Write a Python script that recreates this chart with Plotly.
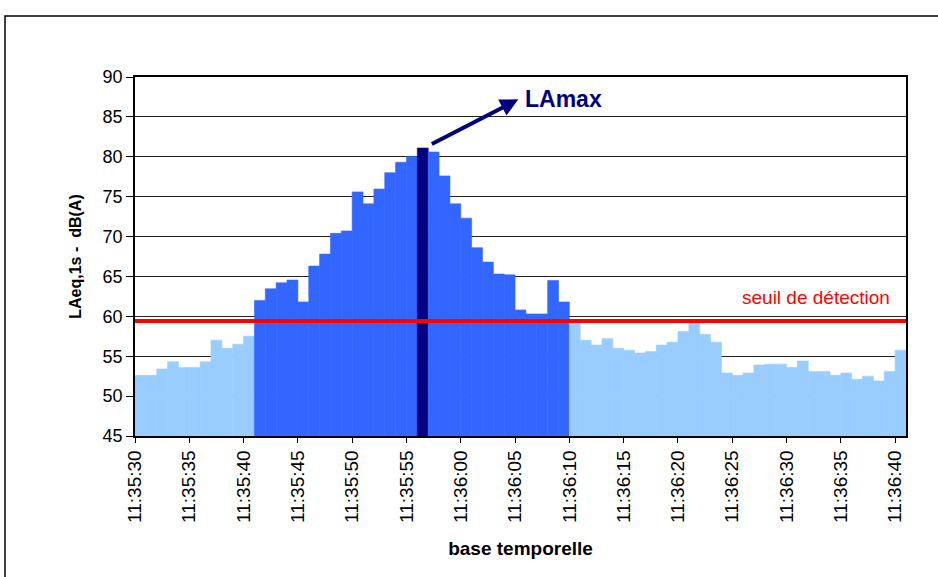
import pandas as pd
import plotly.graph_objects as go

# niveaux LAeq,1s mesurés (dB(A)), une valeur par seconde à partir de 11:35:30
debut = "2000-01-01 11:35:30"
laeq = [
    52.6, 52.6, 53.4, 54.3, 53.6, 53.6, 54.3, 57.0, 56.0, 56.5, 57.5,
    62.0, 63.45, 64.2, 64.55, 61.8, 66.3, 67.8, 70.4, 70.7, 75.6, 74.1,
    75.95, 78.0, 79.3, 80.05, 81.1, 80.6, 77.6, 74.1, 72.3, 68.6, 66.8,
    65.3, 65.2, 60.8, 60.3, 60.3, 64.5, 61.8,
    59.3, 57.0, 56.4, 57.2, 56.0, 55.75, 55.4, 55.6, 56.4, 56.75, 58.1,
    59.3, 57.75, 56.75, 52.9, 52.6, 52.9, 53.9, 54.0, 54.0, 53.6, 54.4,
    53.1, 53.1, 52.6, 52.9, 52.1, 52.5, 51.9, 53.1, 55.75,
]
seuil = 59.4
evt_debut = "2000-01-01 11:35:41"
evt_fin = "2000-01-01 11:36:09"

COUL_FOND = "#99CCFF"
COUL_EVT = "#3366FF"
COUL_MAX = "#000080"

temps = pd.date_range(debut, periods=len(laeq), freq="s")
i_max = laeq.index(max(laeq))

couleurs = []
for i, t in enumerate(temps):
    if i == i_max:
        couleurs.append(COUL_MAX)
    elif pd.Timestamp(evt_debut) <= t <= pd.Timestamp(evt_fin):
        couleurs.append(COUL_EVT)
    else:
        couleurs.append(COUL_FOND)

fig = go.Figure(go.Bar(
    x=temps,
    y=laeq,
    width=1000,
    offset=0,
    marker_color=couleurs,
    marker_line_color=couleurs,
    marker_line_width=0.6,
    hovertemplate="%{x|%H:%M:%S}<br>%{y} dB(A)<extra></extra>",
))

# seuil de détection
fig.add_shape(type="line", xref="paper", x0=0, x1=1, yref="y", y0=seuil, y1=seuil,
              line=dict(color="#FF0000", width=4), layer="above")
fig.add_annotation(xref="paper", x=0.982, yref="y", y=seuil, text="seuil de détection",
                   showarrow=False, xanchor="right", yanchor="bottom", yshift=11,
                   font=dict(color="#FF0000", size=19))

# LAmax + flèche
fig.add_annotation(x="2000-01-01 11:36:09.5", y=87.2, text="<b>LAmax</b>", showarrow=False,
                   font=dict(color=COUL_MAX, size=23))
fig.add_annotation(x="2000-01-01 11:36:05.3", y=87.2, ax="2000-01-01 11:35:57.2", ay=81.5,
                   axref="x", ayref="y", text="", showarrow=True,
                   arrowhead=2, arrowsize=0.9, arrowwidth=4, arrowcolor=COUL_MAX)

# cadre extérieur
fig.add_shape(type="rect", xref="paper", yref="paper", x0=-0.1686, x1=1.06, y0=-0.42, y1=1.17,
              line=dict(color="black", width=1.5), layer="below")

fig.update_layout(
    width=938,
    height=577,
    margin=dict(l=135, r=32, t=77, b=141),
    paper_bgcolor="white",
    plot_bgcolor="white",
    font=dict(family="Liberation Sans, Arial, sans-serif", color="black"),
    showlegend=False,
    xaxis=dict(
        type="date",
        range=[debut, "2000-01-01 11:36:41"],
        tick0=debut,
        dtick=5000,
        tickformat="%H:%M:%S",
        tickangle=-90,
        tickfont=dict(size=19),
        ticks="outside",
        ticklen=5,
        tickcolor="black",
        showgrid=False,
        showline=True,
        linecolor="black",
        linewidth=1.5,
        mirror=True,
        title=dict(text="<b>base temporelle</b>", font=dict(size=19), standoff=20),
    ),
    yaxis=dict(
        range=[45, 90],
        dtick=5,
        tickfont=dict(size=18),
        ticks="outside",
        ticklen=7,
        tickcolor="black",
        showgrid=True,
        gridcolor="#222222",
        gridwidth=1,
        showline=True,
        linecolor="black",
        linewidth=1.5,
        mirror=True,
        zeroline=False,
        title=dict(text="<b>LAeq,1s -  dB(A)</b>", font=dict(size=16), standoff=17),
    ),
)

# pas de marge autour de la page, pour que le cadre reste visible
fig.write_html("out.html", config={"displayModeBar": False},
               post_script="document.body.style.margin='0';")
